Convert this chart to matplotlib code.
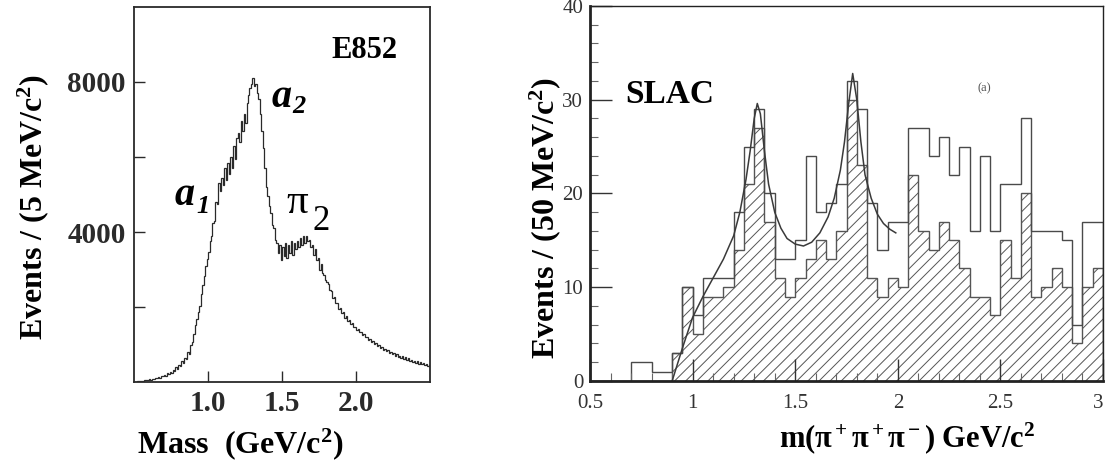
import numpy as np
import matplotlib
matplotlib.use("Agg")
import matplotlib.pyplot as plt
from matplotlib.ticker import MultipleLocator

plt.rcParams["font.family"] = ["Liberation Serif", "DejaVu Serif"]
plt.rcParams["mathtext.fontset"] = "custom"
plt.rcParams["mathtext.rm"] = "Liberation Serif:bold"
plt.rcParams["mathtext.bf"] = "Liberation Serif:bold"
plt.rcParams["mathtext.it"] = "Liberation Serif:bold:italic"
plt.rcParams["hatch.linewidth"] = 0.7

# E852: events per 10 MeV bin, bins from 0.50 to 2.50 GeV
e852_range = (0.50, 2.50)
e852_counts = [
    0, 10, 20, 15, 30, 40, 35, 50, 60, 55,
    70, 60, 90, 85, 110, 100, 130, 120, 160, 150,
    190, 170, 230, 210, 270, 250, 330, 300, 390, 360,
    450, 430, 560, 520, 650, 620, 800, 760, 980, 1060,
    1280, 1530, 1680, 1870, 2030, 2350, 2600, 2820, 3100, 3290,
    3480, 3750, 3900, 4250, 4300, 4800, 4750, 5300, 5100, 5450,
    5250, 5700, 5400, 5850, 5550, 6000, 5700, 6300, 5950, 6500,
    6650, 6400, 6950, 6700, 7150, 6900, 7450, 7650, 7850, 7950,
    8100, 7900, 7950, 7700, 7550, 7150, 6700, 6250, 5700, 5200,
    4950, 4700, 4500, 4200, 4100, 3800, 3700, 3450, 3650, 3250,
    3600, 3350, 3700, 3300, 3650, 3450, 3750, 3400, 3700, 3550,
    3750, 3600, 3850, 3650, 3900, 3700, 3900, 3750, 3800, 3600,
    3650, 3400, 3550, 3250, 3300, 3000, 3150, 2900, 2850, 2720,
    2680, 2620, 2450, 2420, 2250, 2280, 2100, 2120, 1950, 1980,
    1850, 1860, 1720, 1750, 1640, 1650, 1540, 1580, 1480, 1460,
    1400, 1420, 1330, 1340, 1250, 1280, 1190, 1210, 1130, 1150,
    1070, 1100, 1010, 1040, 960, 990, 900, 940, 860, 890,
    820, 860, 780, 810, 740, 770, 700, 740, 670, 700,
    650, 690, 620, 660, 590, 630, 560, 600, 540, 570,
    520, 560, 490, 530, 470, 500, 450, 480, 430, 450,
]

# SLAC: events per 50 MeV bin, bins from 0.50 to 3.00 GeV
slac_range = (0.50, 3.00)
slac_open = [
    0, 0, 0, 0, 2, 2, 1, 1, 3, 10,
    7, 11, 11, 11, 18, 25, 29, 20, 13, 13,
    15, 24, 18, 19, 21, 32, 29, 19, 14, 17,
    17, 27, 27, 24, 26, 22, 25, 16, 24, 16,
    21, 21, 28, 16, 16, 16, 15, 6, 17, 17,
]
slac_hatched = [
    0, 0, 0, 0, 0, 0, 0, 0, 3, 10,
    5, 9, 9, 10, 14, 21, 27, 17, 11, 9,
    11, 13, 15, 13, 16, 30, 23, 11, 9, 11,
    10, 22, 16, 14, 17, 15, 12, 9, 9, 7,
    15, 11, 20, 9, 10, 12, 10, 4, 10, 12,
]
fit_mass = [0.90, 0.95, 1.00, 1.05, 1.10, 1.15, 1.20, 1.23, 1.26, 1.28,
            1.30, 1.315, 1.33, 1.35, 1.37, 1.40, 1.43, 1.46, 1.50, 1.54,
            1.58, 1.62, 1.66, 1.69, 1.72, 1.74, 1.76, 1.78, 1.80, 1.82,
            1.84, 1.87, 1.90, 1.93, 1.96, 1.99]
fit_events = [0.0, 3.5, 6.8, 9.0, 11.0, 13.0, 15.5, 18.0, 21.5, 24.5,
              28.0, 29.6, 28.5, 24.5, 21.0, 18.0, 16.3, 15.2, 14.6, 14.4,
              14.8, 15.8, 17.5, 19.5, 22.5, 25.5, 29.5, 32.8, 30.0, 25.5,
              22.0, 19.5, 17.8, 16.8, 16.2, 15.8]

ink = "#2a2a2a"

fig = plt.figure(figsize=(11.05, 4.63), dpi=100)

# ---- left panel: E852 ----
ax1 = fig.add_axes([0.1213, 0.1749, 0.2679, 0.81])
edges1 = np.linspace(e852_range[0], e852_range[1], len(e852_counts) + 1)
ax1.stairs(e852_counts, edges1, color=ink, lw=0.9)
ax1.set_xlim(*e852_range)
ax1.set_ylim(0, 10000)
ax1.set_xticks([1.0, 1.5, 2.0])
ax1.set_xticklabels(["1.0", "1.5", "2.0"], fontsize=21, fontweight="bold")
ax1.set_yticks([2000, 4000, 6000, 8000])
ax1.set_yticklabels(["", "4000", "", "8000"], fontsize=21, fontweight="bold")
ax1.tick_params(direction="in", length=8, width=1, pad=6, colors=ink)
for s in ax1.spines.values():
    s.set_linewidth(1.3)
    s.set_color(ink)

fig.text(0.030, 0.553, "Events / (5 MeV/c$^2$)", rotation=90, ha="center",
         va="center", fontsize=23, fontweight="bold")
fig.text(0.217, 0.022, "Mass  (GeV/c$^2$)", ha="center", va="baseline",
         fontsize=23, fontweight="bold")
fig.text(0.3294, 0.8747, "E852", ha="center", va="baseline", fontsize=22,
         fontweight="bold")
fig.text(0.1575, 0.5572, "a", fontsize=29, fontweight="bold", style="italic")
fig.text(0.1774, 0.540, "1", fontsize=19, fontweight="bold", style="italic")
fig.text(0.2460, 0.7689, "a", fontsize=29, fontweight="bold", style="italic")
fig.text(0.2643, 0.7559, "2", fontsize=19, fontweight="bold", style="italic")
fig.text(0.2590, 0.5400, "π", fontsize=31)
fig.text(0.2824, 0.5032, "2", fontsize=25)

# ---- right panel: SLAC ----
ax2 = fig.add_axes([0.534, 0.1771, 0.4642, 0.81])
edges2 = np.linspace(slac_range[0], slac_range[1], len(slac_open) + 1)
ax2.stairs(slac_hatched, edges2, fill=True, facecolor="white", hatch="///",
           edgecolor="#555555", lw=1.0)
ax2.stairs(slac_open, edges2, color="#4a4a4a", lw=1.0)
ax2.plot(fit_mass, fit_events, color="#3a3a3a", lw=1.1)
ax2.set_xlim(*slac_range)
ax2.set_ylim(0, 40)
ax2.set_xticks([0.5, 1.0, 1.5, 2.0, 2.5, 3.0])
ax2.set_xticklabels(["0.5", "1", "1.5", "2", "2.5", "3"], fontsize=15)
ax2.get_xticklabels()[-1].set_horizontalalignment("right")
ax2.set_yticks([0, 10, 20, 30, 40])
ax2.set_yticklabels(["0", "10", "20", "30", "40"], fontsize=15)
ax2.xaxis.set_minor_locator(MultipleLocator(0.1))
ax2.yaxis.set_minor_locator(MultipleLocator(2))
ax2.tick_params(which="major", direction="in", length=16, width=1,
                colors="#333333")
ax2.tick_params(axis="x", which="major", pad=9)
ax2.tick_params(axis="y", which="major", pad=5)
ax2.tick_params(which="minor", direction="in", length=6, width=0.8,
                colors="#666666")
for name, s in ax2.spines.items():
    s.set_color("#222222")
    s.set_linewidth(2.0 if name in ("left", "bottom") else 1.0)

fig.text(0.6063, 0.7775, "SLAC", ha="center", va="baseline", fontsize=24,
         fontweight="bold")
fig.text(0.891, 0.81, "(a)", ha="center", va="center", fontsize=9,
         color="#555555")
fig.text(0.4932, 0.53, "Events / (50 MeV/c$^2$)", rotation=90, ha="center",
         va="center", fontsize=23, fontweight="bold")
fig.text(0.821, 0.035, "m(π$^+$π$^+$π$^-$) GeV/c$^2$", ha="center",
         va="baseline", fontsize=22, fontweight="bold")

fig.savefig("out.png", dpi=100)
